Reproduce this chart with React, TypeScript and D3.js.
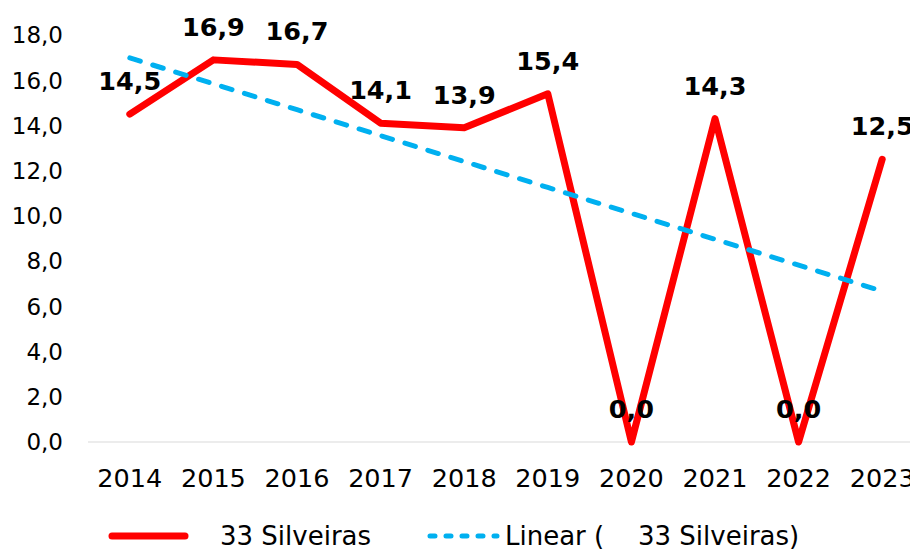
import React, { useEffect, useRef } from "react";
import * as d3 from "d3";

const years = ["2014", "2015", "2016", "2017", "2018", "2019", "2020", "2021", "2022", "2023"];
const silveiras = [14.5, 16.9, 16.7, 14.1, 13.9, 15.4, 0.0, 14.3, 0.0, 12.5];
const yTicks = [0, 2, 4, 6, 8, 10, 12, 14, 16, 18];
const seriesName = "33 Silveiras";
const trendPrefix = "Linear (";
const trendSuffix = "33 Silveiras)";

const fmt = (v: number) => d3.format(".1f")(v).replace(".", ",");

const App = () => {
  const width = 910;
  const height = 549;
  const margin = { left: 88, right: -14, top: 35, bottom: 107 };
  const font = "'DejaVu Sans', Verdana, sans-serif";

  const ref = useRef<SVGSVGElement>(null);

  useEffect(() => {
    if (!ref.current) return;
    const svg = d3.select(ref.current);
    svg.selectAll("*").remove();

    const x = d3
      .scaleBand()
      .domain(years)
      .range([margin.left, width - margin.right]);
    const y = d3
      .scaleLinear()
      .domain([0, 18])
      .range([height - margin.bottom, margin.top]);
    const cx = (d: string) => (x(d) as number) + x.bandwidth() / 2;

    // baseline
    svg
      .append("line")
      .attr("x1", margin.left)
      .attr("x2", width - margin.right)
      .attr("y1", y(0))
      .attr("y2", y(0))
      .attr("stroke", "#D9D9D9")
      .attr("stroke-width", 1);

    // y tick labels
    svg
      .append("g")
      .selectAll("text")
      .data(yTicks)
      .enter()
      .append("text")
      .attr("x", 63)
      .attr("y", (d) => y(d))
      .attr("dy", "0.36em")
      .attr("text-anchor", "end")
      .attr("font-family", font)
      .attr("font-size", 23)
      .attr("fill", "#000")
      .text((d) => fmt(d));

    // x labels
    svg
      .append("g")
      .selectAll("text")
      .data(years)
      .enter()
      .append("text")
      .attr("x", (d) => cx(d))
      .attr("y", 487)
      .attr("text-anchor", "middle")
      .attr("font-family", font)
      .attr("font-size", 25.5)
      .attr("fill", "#000")
      .text((d) => d);

    // linear trend (least squares)
    const idx = silveiras.map((_, i) => i);
    const mx = d3.mean(idx) as number;
    const my = d3.mean(silveiras) as number;
    const slope =
      d3.sum(idx, (i) => (i - mx) * (silveiras[i] - my)) /
      d3.sum(idx, (i) => (i - mx) * (i - mx));
    const icpt = my - slope * mx;
    const trend = idx.map((i) => icpt + slope * i);

    const line = d3
      .line<number>()
      .x((d, i) => cx(years[i]))
      .y((d) => y(d));

    svg
      .append("path")
      .datum(silveiras)
      .attr("d", line)
      .attr("fill", "none")
      .attr("stroke", "#FF0000")
      .attr("stroke-width", 7)
      .attr("stroke-linejoin", "round")
      .attr("stroke-linecap", "round");

    svg
      .append("path")
      .datum(trend)
      .attr("d", line)
      .attr("fill", "none")
      .attr("stroke", "#00B0F0")
      .attr("stroke-width", 5)
      .attr("stroke-dasharray", "11 13")
      .attr("stroke-linecap", "round");

    // data labels
    svg
      .append("g")
      .selectAll("text")
      .data(silveiras)
      .enter()
      .append("text")
      .attr("x", (d, i) => cx(years[i]))
      .attr("y", (d) => y(d) - 24)
      .attr("text-anchor", "middle")
      .attr("font-family", font)
      .attr("font-weight", "bold")
      .attr("font-size", 25.5)
      .attr("fill", "#000")
      .text((d) => fmt(d));

    // legend
    const lg = svg.append("g");
    lg.append("line")
      .attr("x1", 112)
      .attr("x2", 185)
      .attr("y1", 536)
      .attr("y2", 536)
      .attr("stroke", "#FF0000")
      .attr("stroke-width", 7)
      .attr("stroke-linecap", "round");
    lg.append("text")
      .attr("x", 220)
      .attr("y", 545)
      .attr("font-family", font)
      .attr("font-size", 26)
      .attr("fill", "#000")
      .text(seriesName);
    lg.append("line")
      .attr("x1", 430)
      .attr("x2", 497)
      .attr("y1", 536)
      .attr("y2", 536)
      .attr("stroke", "#00B0F0")
      .attr("stroke-width", 5)
      .attr("stroke-dasharray", "5 11")
      .attr("stroke-linecap", "round");
    const t = lg
      .append("text")
      .attr("y", 545)
      .attr("font-family", font)
      .attr("font-size", 26)
      .attr("fill", "#000");
    t.append("tspan").attr("x", 505).text(trendPrefix);
    t.append("tspan").attr("x", 638).text(trendSuffix);
  }, []);

  return (
    <svg
      ref={ref}
      width={width}
      height={height}
      style={{ position: "absolute", left: 0, top: 0, background: "#fff" }}
    />
  );
};

export default App;
